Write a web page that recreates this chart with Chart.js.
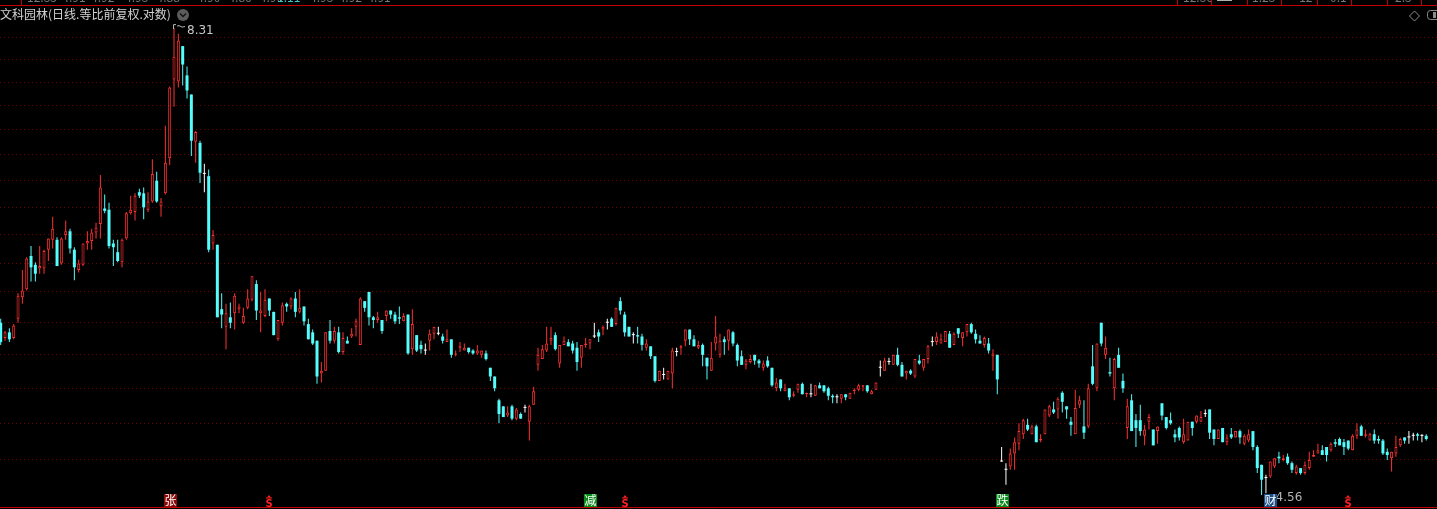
<!DOCTYPE html>
<html><head><meta charset="utf-8">
<script src="https://cdn.jsdelivr.net/npm/chart.js@4.4.1/dist/chart.umd.min.js"></script>
<style>html,body{margin:0;padding:0;background:#000;overflow:hidden}canvas{display:block}</style>
</head><body>
<canvas id="c" width="1437" height="509"></canvas>
<script>
// ---- data (daily OHLC, forward-adjusted) ----
const open = [
5.69,5.58,5.62,5.58,5.72,5.88,5.94,6.20,6.13,6.10, 6.10,6.25,6.33,6.33,6.14,6.37,6.40,6.25,6.09,6.13,
6.30,6.32,6.39,6.46,6.59,6.58,6.30,6.23,6.15,6.34, 6.55,6.56,6.73,6.72,6.58,6.65,6.83,6.61,6.72,7.03,
7.78,7.76,8.12,7.82,7.63,7.18,7.17,6.89,6.87,6.30, 6.29,5.79,5.66,5.73,5.76,5.79,5.69,5.80,5.86,5.98,
5.76,5.74,5.87,5.77,5.57,5.69,5.83,5.81,5.87,5.77, 5.81,5.68,5.62,5.56,5.33,5.35,5.63,5.56,5.62,5.48,
5.56,5.59,5.66,5.53,5.85,5.92,5.73,5.71,5.71,5.74, 5.78,5.75,5.73,5.70,5.75,5.50,5.60,5.53,5.49,5.56,
5.61,5.61,5.59,5.55,5.57,5.46,5.51,5.49,5.51,5.49, 5.47,5.46,5.47,5.37,5.31,5.15,5.11,5.05,5.11,5.03,
5.06,5.10,5.01,5.12,5.39,5.43,5.49,5.56,5.60,5.40, 5.53,5.55,5.54,5.51,5.44,5.53,5.54,5.59,5.62,5.64,
5.69,5.72,5.68,5.85,5.75,5.66,5.60,5.60,5.59,5.51, 5.52,5.45,5.28,5.32,5.29,5.33,5.48,5.51,5.56,5.64,
5.57,5.51,5.53,5.44,5.35,5.54,5.46,5.57,5.56,5.62, 5.53,5.45,5.39,5.41,5.46,5.42,5.37,5.42,5.37,5.23,
5.29,5.21,5.23,5.18,5.22,5.26,5.19,5.19,5.18,5.25, 5.25,5.23,5.18,5.17,5.16,5.19,5.16,5.21,5.22,5.24,
5.25,5.19,5.22,5.37,5.35,5.41,5.39,5.46,5.39,5.33, 5.35,5.31,5.42,5.37,5.43,5.55,5.55,5.54,5.55,5.61,
5.53,5.65,5.58,5.62,5.68,5.61,5.56,5.53,5.54,5.45, 5.46,4.76,4.71,4.73,4.81,4.87,4.93,4.99,4.93,4.98,
4.89,4.93,5.05,5.09,5.09,5.20,5.11,5.01,4.93,5.12, 4.98,4.98,5.38,5.23,5.69,5.46,5.34,5.23,5.46,5.28,
4.97,5.15,5.02,5.02,4.92,5.01,4.96,4.95,5.13,5.04, 5.02,4.93,4.97,4.88,4.89,5.01,5.01,5.01,5.06,5.09,
4.96,4.90,4.97,4.88,4.93,4.91,4.95,4.87,4.89,4.95, 4.85,4.74,4.66,4.67,4.73,4.79,4.77,4.79,4.75,4.69,
4.72,4.69,4.72,4.79,4.81,4.83,4.85,4.83,4.88,4.90, 4.88,4.89,4.83,4.92,4.98,4.92,4.89,4.93,4.90,4.89,
4.82,4.78,4.81,4.86,4.91,4.91,4.92,4.93,4.92,4.92
];
const high = [
5.72,5.63,5.65,5.68,5.91,6.09,6.19,6.28,6.15,6.28, 6.25,6.34,6.52,6.35,6.35,6.49,6.42,6.27,6.17,6.30,
6.40,6.42,6.47,6.88,6.71,6.64,6.33,6.33,6.34,6.56, 6.70,6.72,6.76,6.77,6.73,7.02,6.91,6.68,7.33,7.71,
8.31,8.25,8.12,7.91,7.63,7.28,7.19,6.98,6.93,6.41, 6.29,5.91,5.83,5.84,5.91,5.83,5.80,5.94,6.04,6.01,
5.92,5.94,5.87,5.77,5.71,5.84,5.84,5.88,5.92,5.94, 5.81,5.72,5.64,5.56,5.41,5.62,5.71,5.66,5.66,5.62,
5.59,5.65,5.72,5.88,5.85,5.92,5.74,5.77,5.71,5.78, 5.78,5.77,5.81,5.76,5.75,5.79,5.60,5.56,5.54,5.64,
5.66,5.66,5.61,5.64,5.57,5.49,5.55,5.54,5.51,5.50, 5.53,5.49,5.49,5.37,5.31,5.16,5.11,5.11,5.12,5.10,
5.07,5.12,5.12,5.24,5.51,5.53,5.66,5.66,5.62,5.53, 5.59,5.57,5.56,5.55,5.53,5.58,5.57,5.69,5.64,5.67,
5.72,5.73,5.80,5.88,5.77,5.66,5.62,5.66,5.61,5.57, 5.52,5.45,5.35,5.37,5.35,5.51,5.51,5.53,5.64,5.64,
5.60,5.56,5.54,5.44,5.55,5.74,5.61,5.59,5.64,5.63, 5.54,5.49,5.43,5.46,5.46,5.43,5.42,5.45,5.37,5.30,
5.29,5.26,5.23,5.21,5.26,5.27,5.20,5.26,5.25,5.27, 5.25,5.24,5.19,5.19,5.19,5.19,5.20,5.23,5.26,5.25,
5.25,5.22,5.27,5.42,5.44,5.44,5.46,5.51,5.41,5.35, 5.36,5.43,5.46,5.43,5.53,5.59,5.62,5.61,5.63,5.63,
5.62,5.65,5.62,5.68,5.69,5.64,5.60,5.59,5.58,5.50, 5.46,4.85,4.75,4.84,4.91,5.00,5.03,5.03,4.99,4.99,
4.93,5.09,5.12,5.14,5.17,5.21,5.11,5.04,5.22,5.18, 5.15,5.26,5.53,5.54,5.69,5.59,5.44,5.44,5.51,5.33,
5.16,5.19,5.06,5.12,4.99,5.06,4.96,4.98,5.13,5.04, 5.07,4.96,4.98,5.03,5.01,5.01,5.05,5.08,5.09,5.09,
4.96,4.96,4.97,4.93,4.97,4.95,4.96,4.93,4.96,4.95, 4.86,4.74,4.68,4.76,4.78,4.82,4.80,4.81,4.76,4.74,
4.72,4.76,4.82,4.83,4.87,4.86,4.85,4.88,4.90,4.91, 4.90,4.89,4.93,5.00,4.99,4.96,4.94,4.96,4.92,4.90,
4.84,4.82,4.92,4.91,4.91,4.95,4.94,4.94,4.93,4.93
];
const low = [
5.53,5.56,5.55,5.57,5.69,5.83,5.93,6.00,6.00,6.06, 6.06,6.16,6.26,6.12,6.13,6.33,6.22,6.01,6.07,6.12,
6.25,6.25,6.34,6.34,6.55,6.26,6.12,6.15,6.11,6.33, 6.54,6.49,6.68,6.50,6.56,6.64,6.64,6.52,6.71,6.97,
7.51,7.70,7.72,7.59,7.05,6.99,6.81,6.73,6.23,6.25, 5.73,5.65,5.50,5.65,5.64,5.76,5.68,5.79,5.85,5.71,
5.62,5.73,5.74,5.60,5.56,5.67,5.77,5.79,5.73,5.76, 5.67,5.57,5.53,5.26,5.27,5.35,5.54,5.54,5.47,5.46,
5.54,5.58,5.59,5.53,5.77,5.67,5.65,5.69,5.61,5.70, 5.72,5.68,5.68,5.70,5.46,5.46,5.48,5.47,5.46,5.49,
5.57,5.60,5.54,5.55,5.44,5.45,5.48,5.49,5.47,5.46, 5.46,5.44,5.42,5.28,5.21,5.00,5.04,5.04,5.02,5.02,
5.03,5.07,4.89,5.12,5.35,5.43,5.48,5.53,5.49,5.37, 5.53,5.52,5.47,5.35,5.37,5.51,5.50,5.58,5.55,5.60,
5.64,5.66,5.67,5.75,5.59,5.59,5.54,5.54,5.49,5.49, 5.43,5.27,5.28,5.29,5.29,5.23,5.45,5.46,5.52,5.53,
5.52,5.50,5.38,5.29,5.35,5.49,5.44,5.46,5.49,5.52, 5.38,5.39,5.36,5.40,5.39,5.37,5.35,5.37,5.24,5.21,
5.21,5.21,5.15,5.17,5.20,5.19,5.17,5.17,5.18,5.23, 5.20,5.15,5.13,5.13,5.13,5.15,5.16,5.19,5.21,5.21,
5.20,5.19,5.22,5.31,5.35,5.39,5.39,5.38,5.31,5.29, 5.32,5.30,5.39,5.35,5.40,5.52,5.53,5.54,5.55,5.51,
5.53,5.58,5.52,5.59,5.61,5.54,5.54,5.51,5.47,5.35, 5.19,4.76,4.62,4.71,4.71,4.83,4.90,4.95,4.93,4.88,
4.88,4.93,5.04,5.06,5.03,5.07,5.03,4.92,4.93,5.10, 4.90,4.97,5.25,5.21,5.52,5.43,5.31,5.15,5.37,5.20,
4.90,4.95,4.85,4.92,4.86,4.96,4.86,4.87,5.02,4.96, 4.99,4.88,4.89,4.87,4.89,4.92,5.00,5.01,5.04,4.90,
4.86,4.90,4.88,4.86,4.90,4.91,4.87,4.86,4.88,4.83, 4.69,4.56,4.57,4.66,4.72,4.75,4.76,4.74,4.69,4.68,
4.68,4.68,4.71,4.79,4.81,4.80,4.76,4.82,4.85,4.86, 4.80,4.83,4.83,4.90,4.92,4.91,4.89,4.87,4.87,4.80,
4.77,4.70,4.79,4.85,4.87,4.87,4.89,4.89,4.88,4.89
];
const close = [
5.55,5.62,5.57,5.67,5.89,5.93,6.18,6.11,6.06,6.12, 6.24,6.34,6.42,6.12,6.34,6.40,6.26,6.11,6.14,6.30,
6.32,6.39,6.43,6.77,6.57,6.28,6.27,6.16,6.33,6.55, 6.58,6.70,6.70,6.60,6.65,6.89,6.65,6.65,6.99,7.70,
8.01,8.18,7.93,7.67,7.19,7.27,6.90,6.89,6.25,6.37, 5.73,5.75,5.76,5.69,5.89,5.81,5.74,5.87,6.04,5.78,
5.78,5.86,5.78,5.60,5.71,5.82,5.81,5.87,5.77,5.80, 5.70,5.57,5.54,5.31,5.35,5.62,5.56,5.63,5.48,5.58,
5.54,5.61,5.70,5.87,5.80,5.73,5.71,5.73,5.63,5.78, 5.75,5.70,5.72,5.74,5.47,5.68,5.49,5.50,5.49,5.61,
5.66,5.61,5.56,5.57,5.46,5.47,5.52,5.51,5.48,5.47, 5.49,5.49,5.43,5.31,5.23,5.06,5.04,5.07,5.03,5.09,
5.03,5.10,5.11,5.21,5.46,5.50,5.54,5.58,5.50,5.53, 5.56,5.52,5.49,5.41,5.53,5.54,5.57,5.59,5.59,5.66,
5.69,5.66,5.80,5.78,5.62,5.59,5.60,5.59,5.53,5.54, 5.45,5.28,5.35,5.32,5.35,5.49,5.48,5.52,5.64,5.57,
5.52,5.53,5.46,5.38,5.44,5.59,5.56,5.55,5.64,5.54, 5.42,5.39,5.42,5.43,5.42,5.40,5.40,5.38,5.25,5.27,
5.23,5.23,5.17,5.19,5.26,5.19,5.20,5.19,5.25,5.23, 5.21,5.18,5.17,5.17,5.19,5.17,5.20,5.22,5.25,5.25,
5.21,5.21,5.27,5.37,5.42,5.41,5.46,5.39,5.31,5.35, 5.33,5.43,5.40,5.43,5.52,5.55,5.59,5.57,5.63,5.51,
5.61,5.61,5.62,5.68,5.62,5.57,5.54,5.58,5.49,5.47, 5.29,4.76,4.71,4.81,4.88,4.95,5.02,4.96,4.98,4.88,
4.90,5.09,5.11,5.07,5.16,5.14,5.09,4.99,5.10,5.15, 4.94,5.23,5.26,5.54,5.54,5.51,5.33,5.43,5.37,5.23,
5.11,4.95,4.97,4.95,4.96,5.04,4.86,4.98,5.05,4.97, 5.00,4.91,4.91,4.93,5.01,4.97,5.05,5.04,5.06,4.94,
4.90,4.96,4.88,4.91,4.91,4.95,4.91,4.92,4.93,4.85, 4.72,4.65,4.66,4.76,4.78,4.78,4.78,4.75,4.71,4.73,
4.69,4.74,4.77,4.80,4.83,4.80,4.80,4.87,4.87,4.86, 4.85,4.84,4.92,4.96,4.92,4.93,4.93,4.89,4.89,4.81,
4.80,4.82,4.85,4.90,4.89,4.91,4.92,4.92,4.92,4.90
];
const days = open.map((_, i) => i);                 // trading-day index (category axis)
const gridLevels = [8.21,7.98,7.75,7.52,7.29,7.06,6.83,6.60,6.37,6.14,5.92,5.69,5.46,5.23,5.00,4.77];
const peakIndex = 40, peakValue = 8.31;
const troughIndex = 291, troughValue = 4.56;
const eventIndex = [39, 62, 136, 144, 231, 293, 311];
const eventLabel = ['张', '$', '减', '$', '跌', '财', '$'];
const titleText = '文科园林(日线.等比前复权.对数)';

// ---- styling ----
const UP = '#ff3232', DOWN = '#54fcfc', FLAT = '#ffffff';
const tone = i => close[i] > open[i] ? UP : (close[i] < open[i] ? DOWN : FLAT);
const CJK = '"Noto Sans CJK SC","Noto Sans",sans-serif';

const decor = {
  id: 'decor',
  beforeDraw(chart) {
    const c = chart.ctx;
    c.save(); c.fillStyle = '#000'; c.fillRect(0, 0, chart.width, chart.height); c.restore();
  },
  afterDraw(chart) {
    const c = chart.ctx, xs = chart.scales.x, ys = chart.scales.y, W = chart.width;
    c.save();
    // top strip fragments (cut-off panel above)
    c.font = '12px ' + CJK; c.textBaseline = 'alphabetic'; c.fillStyle = '#7a7a7a';
    c.fillText('12.35  4.91  4.92    4.93   4.88', 27, 2);
    c.fillText('4.90   4.86   4.90', 197, 2);
    c.fillStyle = '#3fc8c8'; c.fillText('1.11', 277, 2);
    c.fillStyle = '#7a7a7a'; c.fillText('4.93  4.92  4.91', 310, 2);
    c.fillText('12.36', 1183, 2); c.fillText('1.23', 1252, 2); c.fillText('-12', 1295, 2);
    c.fillText('0.1', 1330, 2); c.fillText('2.3', 1395, 2);
    c.fillStyle = '#b0b0b0'; c.fillRect(1217, 0, 15, 1);
    c.strokeStyle = '#c00000'; c.lineWidth = 1;
    c.beginPath(); c.moveTo(0, 5.5); c.lineTo(W, 5.5);
    [21, 1177, 1211, 1247, 1281, 1317, 1351, 1387, 1421].forEach(x => { c.moveTo(x + 0.5, 0); c.lineTo(x + 0.5, 5); });
    c.moveTo(0, 507.5); c.lineTo(W, 507.5);
    c.stroke();
    // title
    c.font = '12px ' + CJK; c.textBaseline = 'middle'; c.fillStyle = '#d2d2d2';
    c.fillText(titleText, 0, 14.5);
    // dropdown circle
    c.fillStyle = '#5c5c5c'; c.beginPath(); c.arc(183, 15, 6, 0, Math.PI * 2); c.fill();
    c.strokeStyle = '#111'; c.lineWidth = 1.3; c.beginPath(); c.moveTo(180, 13.5); c.lineTo(183, 16.5); c.lineTo(186, 13.5); c.stroke();
    // right icons
    c.strokeStyle = '#8c8c8c'; c.lineWidth = 1;
    c.beginPath(); c.moveTo(1414.5, 11); c.lineTo(1419.5, 16); c.lineTo(1414.5, 21); c.lineTo(1409.5, 16); c.closePath(); c.stroke();
    c.beginPath(); c.roundRect(1427.5, 10.5, 16, 9, 3); c.stroke();
    c.fillStyle = '#8c8c8c'; c.fillRect(1433, 12, 3, 6);
    // peak label
    const px = xs.getPixelForValue(peakIndex), py = ys.getPixelForValue(peakValue);
    c.strokeStyle = '#b4b4b4'; c.lineWidth = 1;
    c.beginPath(); c.moveTo(px - 0.5, py + 1); c.lineTo(px - 0.5, py - 3.5); c.lineTo(px + 2, py - 3.5);
    c.moveTo(px + 3, py - 2); c.lineTo(px + 5, py - 2.5); c.lineTo(px + 8, py - 1); c.lineTo(px + 11, py - 1.5); c.stroke();
    c.fillStyle = '#c8c8c8'; c.font = '12px "DejaVu Sans",sans-serif'; c.textBaseline = 'middle';
    c.fillText(String(peakValue.toFixed(2)), px + 13, py + 3);
    // trough label
    const tx = xs.getPixelForValue(troughIndex), ty = ys.getPixelForValue(troughValue);
    c.fillStyle = '#b4b4b4'; c.fillText(troughValue.toFixed(2), tx + 14, ty + 2.5);
    // event markers
    eventIndex.forEach((idx, k) => {
      const x = Math.round(xs.getPixelForValue(idx)), lab = eventLabel[k];
      if (lab === '$') {
        c.fillStyle = '#ff2020';
        c.beginPath(); c.moveTo(x - 2, 497.5); c.lineTo(x, 495); c.lineTo(x + 2, 497.5); c.closePath(); c.fill();
        c.fillRect(x - 3, 497.5, 6, 1);
        c.font = 'bold 10px "DejaVu Sans",sans-serif'; c.textAlign = 'center'; c.textBaseline = 'alphabetic';
        c.fillText('S', x, 507);
        c.textAlign = 'left';
      } else {
        const bg = lab === '张' ? '#8a0a0a' : (lab === '财' ? '#1d4f86' : '#0a8a1a');
        c.fillStyle = bg; c.fillRect(x - 6, 494, 13, 13);
        c.fillStyle = '#ffffff'; c.font = '12px ' + CJK; c.textAlign = 'center'; c.textBaseline = 'middle';
        c.fillText(lab, x + 0.5, 500.5);
        c.textAlign = 'left';
      }
    });
    c.restore();
  }
};

new Chart(document.getElementById('c'), {
  type: 'bar',
  data: {
    labels: days,
    datasets: [
      { // bodies
        data: days.map(i => ({ x: i, y: [open[i], close[i]] })),
        barThickness: 3, grouped: false, minBarLength: 1, inflateAmount: 0, borderSkipped: false,
        backgroundColor: ctx => close[ctx.dataIndex] > open[ctx.dataIndex] ? '#000000' : tone(ctx.dataIndex),
        borderColor: ctx => tone(ctx.dataIndex),
        borderWidth: ctx => close[ctx.dataIndex] > open[ctx.dataIndex] ? 1 : 0
      },
      { // wicks
        data: days.map(i => ({ x: i, y: [low[i], high[i]] })),
        barThickness: 1, grouped: false, inflateAmount: 0, borderWidth: 0,
        backgroundColor: ctx => tone(ctx.dataIndex)
      }
    ]
  },
  options: {
    responsive: false, devicePixelRatio: 1, animation: false,
    layout: { padding: { left: 0, right: 0, top: 6, bottom: 3 } },
    plugins: { legend: { display: false }, tooltip: { enabled: false } },
    scales: {
      x: { type: 'linear', min: -0.1615, max: 331.48, display: false, offset: false },
      y: {
        type: 'logarithmic', min: 4.4956, max: 8.5497, bounds: 'data',
        afterBuildTicks: s => { s.ticks = gridLevels.map(v => ({ value: v })); },
        afterFit: s => { s.width = 0; },
        ticks: { display: false },
        grid: { color: '#6e0000', drawTicks: false, lineWidth: 1 },
        border: { display: false, dash: [1, 3] }
      }
    }
  },
  plugins: [decor]
});
</script>
</body></html>
